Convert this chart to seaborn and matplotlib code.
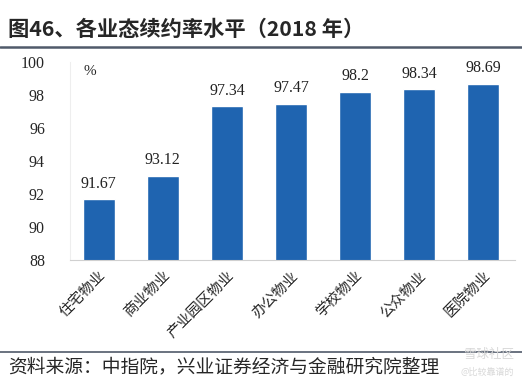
import matplotlib
matplotlib.use("Agg")
import matplotlib.pyplot as plt
import seaborn as sns
import pandas as pd

# data
categories = ["住宅物业", "商业物业", "产业园区物业", "办公物业", "学校物业", "公众物业", "医院物业"]
values = [91.67, 93.12, 97.34, 97.47, 98.2, 98.34, 98.69]
value_labels = ["91.67", "93.12", "97.34", "97.47", "98.2", "98.34", "98.69"]
yticks = [88, 90, 92, 94, 96, 98, 100]

df = pd.DataFrame({"业态": categories, "续约率": values})

sns.set_style("white")
plt.rcParams["font.family"] = ["Noto Sans CJK SC", "DejaVu Sans"]

fig = plt.figure(figsize=(5.22, 3.83), dpi=100)
ax = fig.add_axes([0.134, 0.321, 0.853, 0.517])

sns.barplot(data=df, x="业态", y="续约率", color="#1f64b0", width=0.5, ax=ax,
            saturation=1)

ax.set_ylim(88, 100)
ax.set_xlim(-0.45, 6.5)
ax.set_yticks(yticks)
ax.set_yticklabels([str(t) for t in yticks], family="Liberation Serif", fontsize=11.5)
ax.tick_params(axis="y", length=0, pad=18)
ax.tick_params(axis="x", length=0, pad=6)
ax.set_xticks(range(len(categories)))
ax.set_xticklabels(categories, rotation=45, ha="right", rotation_mode="anchor",
                   fontsize=10.5)
ax.set_xlabel("")
ax.set_ylabel("")

for s in ["top", "right"]:
    ax.spines[s].set_visible(False)
ax.spines["left"].set_color("#eeeeee")
ax.spines["bottom"].set_color("#d0d0d0")

for i, (v, lab) in enumerate(zip(values, value_labels)):
    ax.text(i, v + 0.45, lab, ha="center", va="bottom", family="Liberation Serif",
            fontsize=11.5, color="#222222")

ax.text(0.03, 0.985, "%", transform=ax.transAxes, ha="left", va="top",
        family="Liberation Serif", fontsize=11)

# title and source
fig.text(0.015, 0.922, "图46、各业态续约率水平（2018 年）", fontsize=15.3,
         fontweight="bold", va="center", ha="left")
fig.add_artist(plt.Line2D([0, 1], [0.877, 0.877], color="#505a6a", lw=1.8))
fig.add_artist(plt.Line2D([0, 1], [0.081, 0.081], color="#505a6a", lw=1.2))
fig.text(0.015, 0.042, "资料来源：中指院，兴业证券经济与金融研究院整理", fontsize=13.5,
         va="center", ha="left")
fig.text(0.985, 0.075, "雪球社区", fontsize=9, color="#d8d8d8", ha="right", va="center")
fig.text(0.985, 0.028, "@比较靠谱的", fontsize=6.5, color="#d8d8d8", ha="right", va="center")

fig.savefig("out.png", dpi=100)
plt.close()
